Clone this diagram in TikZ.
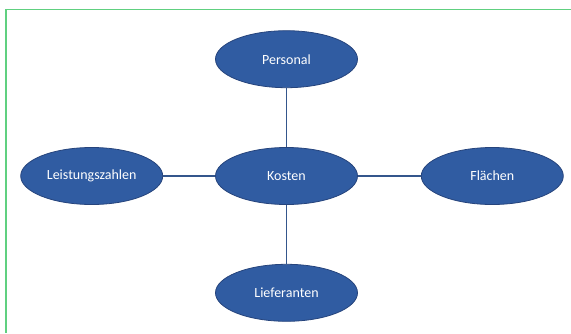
\documentclass[tikz,border=0pt]{standalone}
\usepackage{fontspec}
\setmainfont{Carlito}
\usepackage{xcolor}
\usetikzlibrary{positioning,shapes.geometric}
\definecolor{ovalblue}{RGB}{48,92,162}
\definecolor{ovalrim}{RGB}{38,68,124}
\definecolor{linkblue}{RGB}{52,86,140}
\definecolor{framegreen}{RGB}{96,208,128}

\begin{document}
\begin{tikzpicture}[
  x=1pt, y=-1pt,
  font=\fontsize{14}{16}\selectfont,
  oval/.style={ellipse, draw=ovalrim, line width=0.8pt, fill=ovalblue, text=white, minimum width=142pt, minimum height=57pt, inner sep=1pt},
  link/.style={draw=linkblue, line width=1.1pt},
  node distance=59pt
]
\useasboundingbox (0,0) rectangle (571,333);
% frame, top and left only
\draw[framegreen, line width=1.6pt] (571,9.5) -- (6,9.5) -- (6,333);
\node[oval] (kosten) at (286.5,176) {Kosten};
\node[oval, above=of kosten] (personal) {Personal};
\node[oval, below=of kosten] (lieferanten) {Lieferanten};
\node[oval, left=52pt of kosten] (leistung) {Leistungszahlen};
\node[oval, right=63pt of kosten] (flaechen) {Flächen};
\foreach \a in {personal, lieferanten, leistung, flaechen}{\draw[link] (kosten) -- (\a);}
\end{tikzpicture}
\end{document}
